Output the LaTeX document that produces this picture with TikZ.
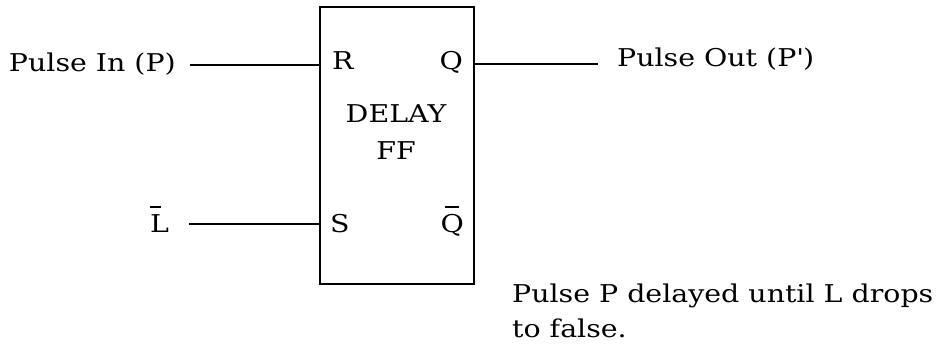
\documentclass[tikz,border=0pt]{standalone}
\usepackage{fontspec}
\setmainfont[FakeStretch=1.16]{DejaVu Serif}
\begin{document}
\begin{tikzpicture}[x=1pt,y=-1pt,
  lbl/.style={inner sep=0pt,font=\fontsize{24.5}{30}\selectfont},
  wire/.style={line width=1.8pt},
  barst/.style={line width=2pt},
  boxst/.style={draw,line width=1.8pt}]
\useasboundingbox (0,0) rectangle (946,350);
\draw[boxst] (320,7) rectangle (474,284);
\coordinate (ff-r) at (320,65);
\coordinate (ff-s) at (320,224);
\coordinate (ff-q) at (474,64);
\node[lbl,anchor=base west] (r) at (332,70) {R};
\node[lbl,anchor=base east] (q) at (463,70) {Q};
\node[lbl,anchor=base west] (s) at (330,233) {S};
\node[lbl,anchor=base east] (qb) at (464,233) {Q};
\node[lbl,anchor=base] (delay) at (396,123) {DELAY};
\node[lbl,anchor=base] (ffl) at (396,160) {FF};
\node[lbl,anchor=base east] (pin) at (176,72) {Pulse In (P)};
\node[lbl,anchor=base west] (pout) at (617,67) {Pulse Out (P\textquotesingle)};
\node[lbl,anchor=base west] (lb) at (150,233) {L};
\draw[barst] ([xshift=5pt,yshift=8pt]qb.north west) -- ([xshift=-5pt,yshift=8pt]qb.north east);
\draw[barst] ([xshift=0pt,yshift=8pt]lb.north west) -- ([xshift=11pt,yshift=8pt]lb.north west);
\coordinate (pin-e) at (190,65);
\coordinate (lb-e) at (189,224);
\coordinate (pout-w) at (598,64);
\draw[wire] (pin-e) -- (ff-r);
\draw[wire] (lb-e) -- (ff-s);
\draw[wire] (ff-q) -- (pout-w);
\node[lbl,anchor=base west] (note1) at (512,302) {Pulse P delayed until L drops};
\node[lbl,anchor=base west] (note2) at (512,337) {to false.};
\end{tikzpicture}
\end{document}
